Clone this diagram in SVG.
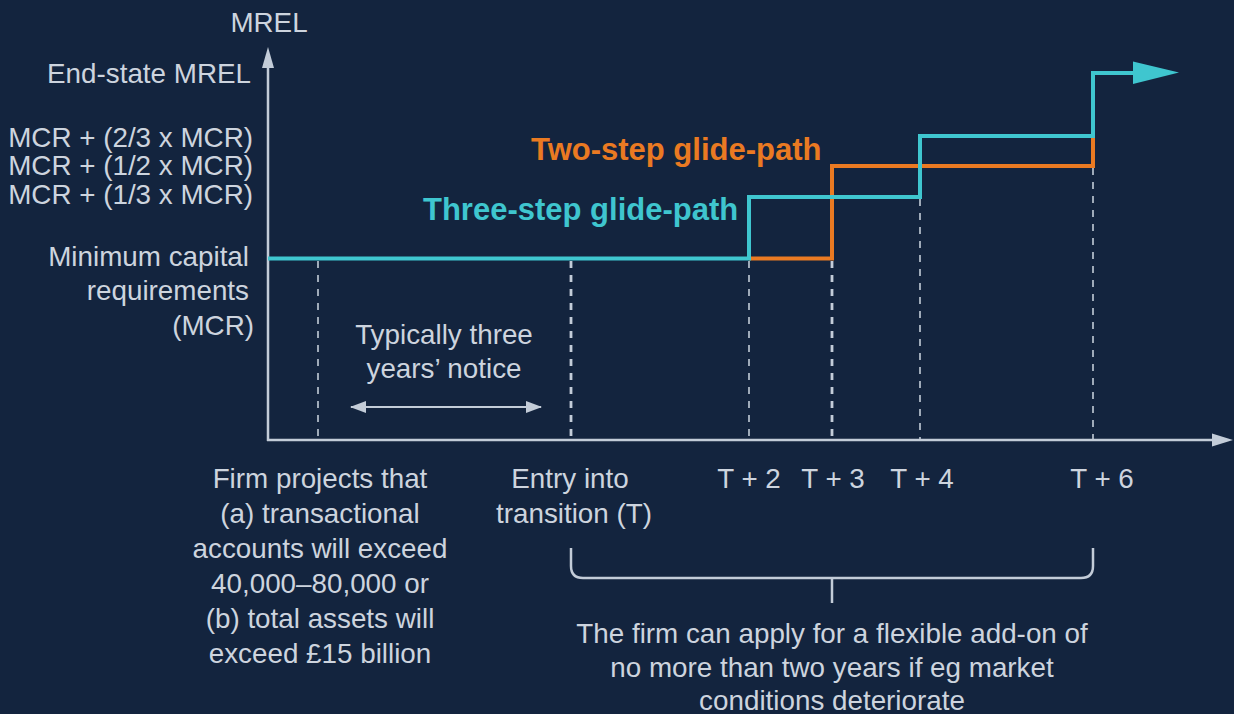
<svg xmlns="http://www.w3.org/2000/svg" width="1234" height="714" viewBox="0 0 1234 714">
  <defs>
    <style>
      .t { font-family: "Liberation Sans", Arial, sans-serif; font-size: 27.8px; fill: #cdd4de; }
      .r { text-anchor: end; }
      .c { text-anchor: middle; }
      .b { font-family: "Liberation Sans", Arial, sans-serif; font-size: 31px; font-weight: bold; }
      .axis { stroke: #c3ccd8; stroke-width: 2.5; fill: none; }
      .dthin { stroke: #c3ccd8; stroke-width: 1.6; stroke-dasharray: 7 7; fill: none; }
      .dthick { stroke: #c3ccd8; stroke-width: 2.8; stroke-dasharray: 7 7; fill: none; }
      .cy { stroke: #3fc6cf; stroke-width: 4; fill: none; }
      .or { stroke: #ea7a22; stroke-width: 4; fill: none; }
    </style>
    <marker id="ah" viewBox="0 0 16 12" refX="15" refY="6" markerWidth="16" markerHeight="12" markerUnits="userSpaceOnUse" orient="auto-start-reverse">
      <path d="M0,0 L16,6 L0,12 z" fill="#c3ccd8"/>
    </marker>
  </defs>
  <rect width="1234" height="714" fill="#13243e"/>

  <g id="connectors">
    <!-- dashed guides -->
    <line class="dthin" x1="318" y1="261" x2="318" y2="440"/>
    <line class="dthick" x1="571" y1="261" x2="571" y2="440"/>
    <line class="dthin" x1="749" y1="261" x2="749" y2="440"/>
    <line class="dthick" x1="832" y1="261" x2="832" y2="440"/>
    <line class="dthin" x1="920" y1="199" x2="920" y2="440"/>
    <line class="dthin" x1="1093" y1="168" x2="1093" y2="440"/>
    <!-- axes -->
    <line class="axis" x1="268" y1="441" x2="268" y2="64"/>
    <polygon points="268,47 262,68 274,68" fill="#c3ccd8"/>
    <line class="axis" x1="267" y1="440" x2="1215" y2="440"/>
    <polygon points="1233,440 1212,433.5 1212,446.5" fill="#c3ccd8"/>
    <!-- glide paths -->
    <polyline class="or" points="749,258.5 832,258.5 832,166 1093,166 1093,137"/>
    <polyline class="cy" points="268,258.5 749,258.5 749,197 920,197 920,136 1093,136 1093,73 1136,73"/>
    <polygon points="1133,61.5 1179,72.5 1133,84" fill="#3fc6cf"/>
    <!-- notice arrow -->
    <line stroke="#c3ccd8" stroke-width="2.2" x1="351" y1="407" x2="541" y2="407" marker-start="url(#ah)" marker-end="url(#ah)"/>
    <!-- bracket -->
    <path class="axis" stroke-width="2" d="M571,548 L571,566 Q571,578 583,578 L1081,578 Q1093,578 1093,566 L1093,548"/>
    <line class="axis" stroke-width="2" x1="832" y1="578" x2="832" y2="603"/>
  </g>

  <g id="y-labels">
    <text class="t c" x="269" y="32">MREL</text>
    <text class="t r" x="251" y="83">End-state MREL</text>
    <text class="t r" x="253" y="147">MCR + (2/3 x MCR)</text>
    <text class="t r" x="253" y="175">MCR + (1/2 x MCR)</text>
    <text class="t r" x="253" y="204">MCR + (1/3 x MCR)</text>
    <text class="t r" x="249" y="266">Minimum capital</text>
    <text class="t r" x="249" y="300">requirements</text>
    <text class="t r" x="254" y="335">(MCR)</text>
  </g>

  <g id="series-labels">
    <text class="b" x="531" y="160" fill="#ea7a22">Two-step glide-path</text>
    <text class="b" x="423" y="220" fill="#3fc6cf">Three-step glide-path</text>
  </g>

  <g id="notice">
    <text class="t c" x="444" y="344">Typically three</text>
    <text class="t c" x="444" y="378">years’ notice</text>
  </g>

  <g id="x-labels">
    <text class="t c" x="320" y="488">Firm projects that</text>
    <text class="t c" x="320" y="523">(a) transactional</text>
    <text class="t c" x="320" y="558">accounts will exceed</text>
    <text class="t c" x="320" y="593">40,000–80,000 or</text>
    <text class="t c" x="320" y="628">(b) total assets will</text>
    <text class="t c" x="320" y="663">exceed £15 billion</text>
    <text class="t c" x="570" y="488">Entry into</text>
    <text class="t c" x="574" y="523">transition (T)</text>
    <text class="t c" x="749" y="488">T + 2</text>
    <text class="t c" x="833" y="488">T + 3</text>
    <text class="t c" x="922" y="488">T + 4</text>
    <text class="t c" x="1102" y="488">T + 6</text>
  </g>

  <g id="addon-note">
    <text class="t c" x="832" y="643">The firm can apply for a flexible add-on of</text>
    <text class="t c" x="832" y="677">no more than two years if eg market</text>
    <text class="t c" x="832" y="710">conditions deteriorate</text>
  </g>
</svg>
